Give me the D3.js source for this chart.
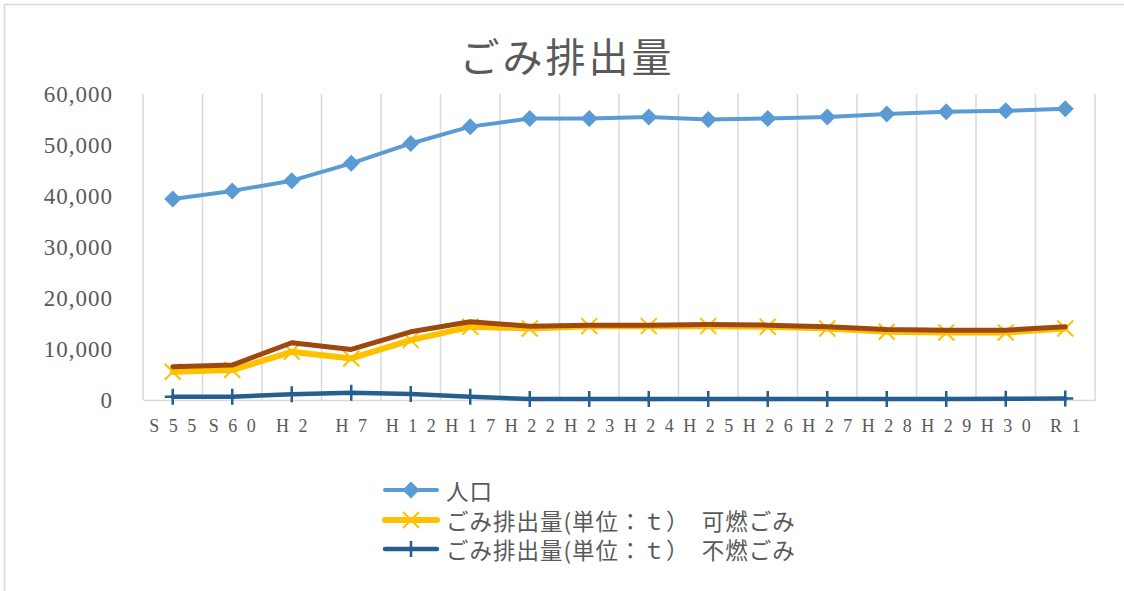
<!DOCTYPE html>
<html>
<head>
<meta charset="utf-8">
<script src="https://cdn.jsdelivr.net/npm/d3@7"></script>
<style>
  html, body { margin: 0; padding: 0; background: #fff; }
  svg { display: block; }
</style>
</head>
<body>
<svg id="chart" width="1124" height="591"></svg>
<script>
const categories = ["S55","S60","H2","H7","H12","H17","H22","H23","H24","H25","H26","H27","H28","H29","H30","R1"];
const population = [39400,41000,43000,46400,50300,53600,55200,55200,55500,55000,55200,55500,56100,56500,56700,57100];
const combustible = [5530,5870,9450,8150,11740,14350,14030,14480,14480,14480,14350,14030,13370,13240,13240,14030];
const nonCombustible = [650,650,1110,1430,1170,650,200,200,180,180,180,200,180,200,230,280];
const totalWaste = [6520,6850,11220,9910,13370,15330,14480,14680,14680,14800,14680,14350,13830,13700,13700,14350];
const yTicks = [0,10000,20000,30000,40000,50000,60000];
const title = "ごみ排出量";
const legendLabels = ["人口","ごみ排出量(単位：ｔ）　可燃ごみ","ごみ排出量(単位：ｔ）　不燃ごみ"];

const svg = d3.select("#chart");
const grid = "#d9d9d9", textCol = "#595959";

svg.append("rect").attr("x",4.5).attr("y",4.5).attr("width",1130).attr("height",600)
  .attr("fill","#fff").attr("stroke",grid).attr("stroke-width",1.5);

svg.append("text").attr("x",567).attr("y",55).attr("text-anchor","middle")
  .attr("dominant-baseline","central")
  .attr("font-family","'Noto Sans CJK JP'").attr("font-size",40).attr("letter-spacing",3)
  .attr("fill",textCol).text(title);

const x = d3.scaleBand().domain(categories).range([143,1095]).padding(0);
const y = d3.scaleLinear().domain([0,60000]).range([400,94]);
const cx = d => x(d) + x.bandwidth()/2;

// vertical gridlines at category boundaries
const bounds = categories.map(c => x(c)).concat([x.range()[1]]);
svg.append("g").selectAll("line").data(bounds).join("line")
  .attr("x1",d=>d).attr("x2",d=>d).attr("y1",y(60000)).attr("y2",y(0))
  .attr("stroke",grid).attr("stroke-width",1.5);

// x axis
const xAxis = svg.append("g").attr("transform",`translate(0,${y(0)})`)
  .call(d3.axisBottom(x).tickSize(0).tickPadding(0));
xAxis.select(".domain").attr("stroke",grid).attr("stroke-width",1.5);
xAxis.selectAll("text").attr("font-family","'Liberation Serif', serif").attr("font-size",18)
  .attr("fill",textCol).attr("letter-spacing",9.5).attr("dy",0).attr("y",32).attr("dx",4.75);

// y axis labels
const yAxis = svg.append("g").attr("transform","translate(113,0)")
  .call(d3.axisLeft(y).tickValues(yTicks).tickSize(0).tickPadding(0).tickFormat(d3.format(",")));
yAxis.select(".domain").remove();
yAxis.selectAll("text").attr("font-family","'Liberation Serif', serif").attr("font-size",23)
  .attr("letter-spacing",1).attr("fill",textCol);

const line = d3.line().x((d,i)=>cx(categories[i])).y(d=>y(d));

function diamond(g, px, py, col){
  const r = 8.5;
  g.append("path").attr("d",`M${px},${py-r}L${px+r},${py}L${px},${py+r}L${px-r},${py}Z`).attr("fill",col);
}
function cross(g, px, py, col){
  g.append("path").attr("d",`M${px-8},${py-8}L${px+8},${py+8}M${px-8},${py+8}L${px+8},${py-8}`)
    .attr("stroke",col).attr("stroke-width",2).attr("fill","none");
}
function plus(g, px, py, col){
  g.append("path").attr("d",`M${px},${py-8}L${px},${py+8}M${px-8},${py}L${px+8},${py}`)
    .attr("stroke",col).attr("stroke-width",2.5).attr("fill","none");
}

const series = [
  {data: population, color:"#5B9BD5", width:4, marker: diamond},
  {data: combustible, color:"#FFC000", width:6, marker: cross},
  {data: nonCombustible, color:"#255E91", width:4.5, marker: plus},
  {data: totalWaste, color:"#9E480E", width:5, marker: null}
];
series.forEach(s => {
  const g = svg.append("g");
  g.append("path").attr("d",line(s.data)).attr("fill","none").attr("stroke",s.color)
    .attr("stroke-width",s.width).attr("stroke-linejoin","round").attr("stroke-linecap","round");
  if (s.marker) s.data.forEach((v,i)=> s.marker(g, cx(categories[i]), y(v), s.color));
});

// legend
const legY = [490,520,549];
series.slice(0,3).forEach((s,i)=>{
  const g = svg.append("g");
  g.append("line").attr("x1",385).attr("x2",437).attr("y1",legY[i]).attr("y2",legY[i])
    .attr("stroke",s.color).attr("stroke-width",s.width).attr("stroke-linecap","round");
  s.marker(g, 411, legY[i], s.color);
  g.append("text").attr("x",446).attr("y",legY[i]).attr("dominant-baseline","central")
    .attr("font-family","'Noto Sans CJK JP'").attr("font-size",22.5).attr("letter-spacing",1)
    .attr("fill",textCol).text(legendLabels[i]);
});
</script>
</body>
</html>
